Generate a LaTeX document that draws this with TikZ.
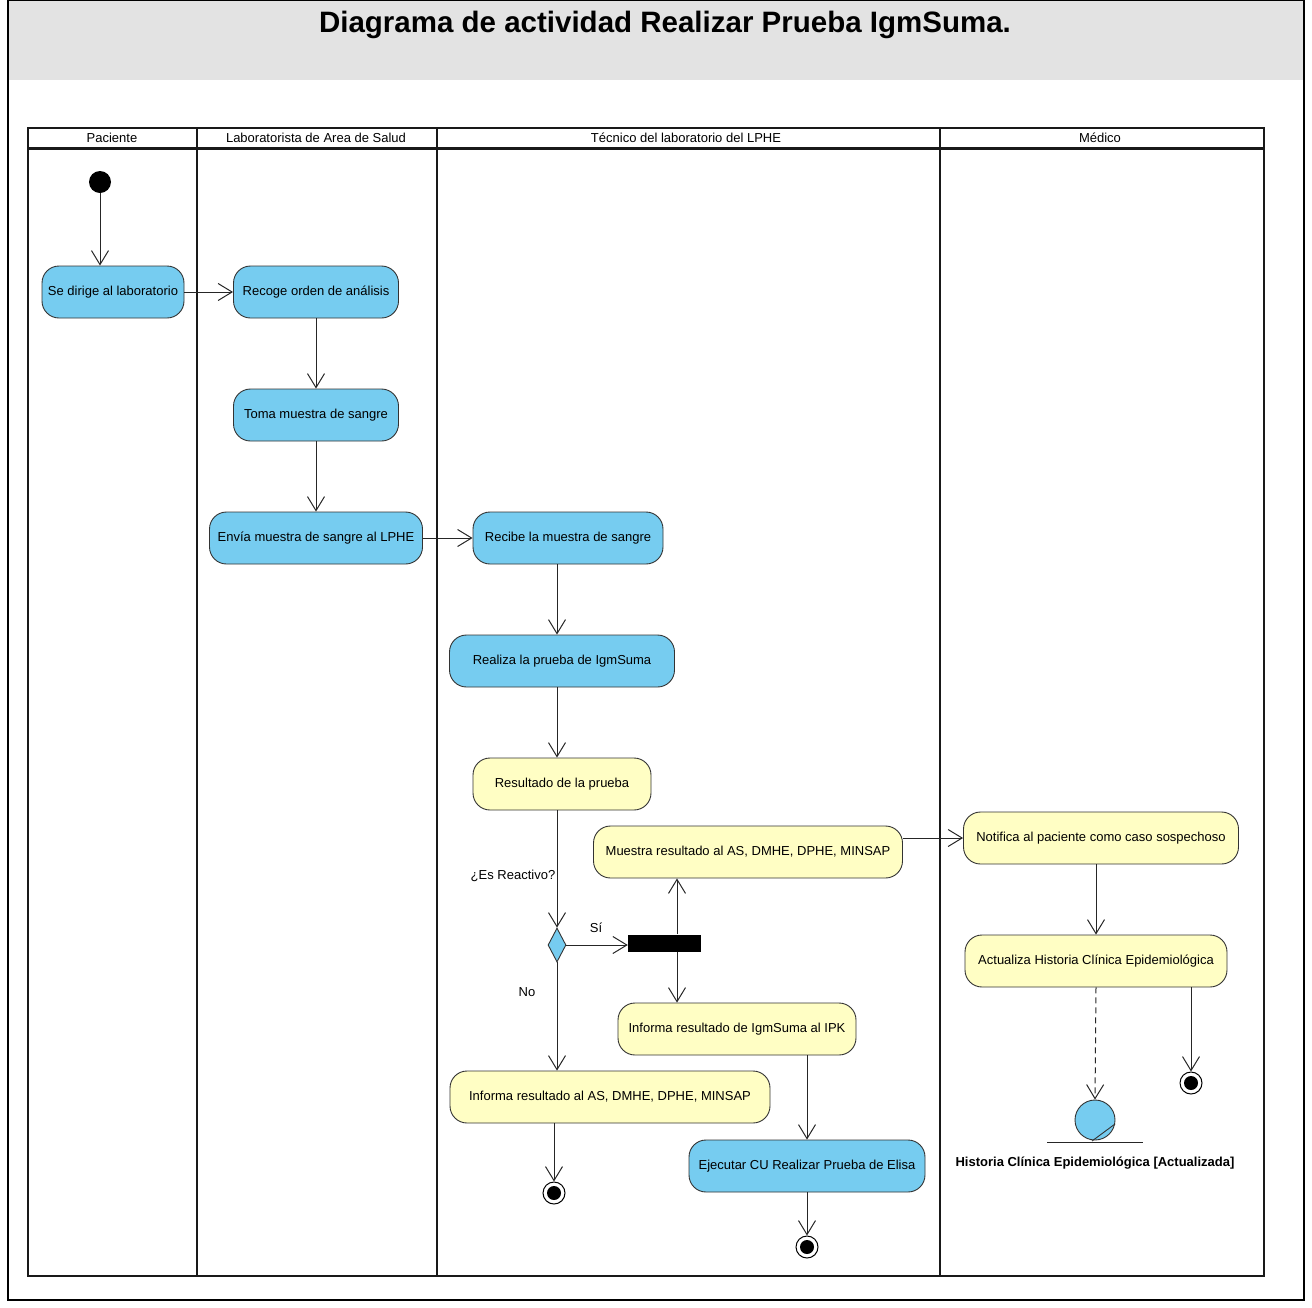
\documentclass[tikz,border=0pt]{standalone}
\usepackage{fontspec}
\setmainfont{Liberation Sans}
\usetikzlibrary{arrows.meta,shapes.geometric}

\definecolor{actblue}{HTML}{76CCF0}
\definecolor{actyellow}{HTML}{FFFEC4}
\definecolor{bandgray}{HTML}{E3E3E3}

\begin{document}
\begin{tikzpicture}[x=1pt,y=-1pt,
  act/.style={draw=black!80, rounded corners=17pt, minimum height=52pt, inner sep=2pt,
              font=\fontsize{13}{15}\selectfont, line width=0.9pt},
  blueact/.style={act, fill=actblue},
  yelact/.style={act, fill=actyellow},
  flow/.style={draw=black!85, line width=1pt,
               -{Straight Barb[length=14pt,width=17pt,line width=1pt]}},
  dep/.style={flow, dashed, dash pattern=on 6pt off 4pt},
  lane/.style={line width=2.5pt, draw=black!90},
  lanelabel/.style={font=\fontsize{13}{15}\selectfont, inner sep=0pt},
  guard/.style={font=\fontsize{13}{15}\selectfont, inner sep=0pt},
  startnode/.style={circle, fill=black, minimum size=22pt, inner sep=0pt},
  endnode/.style={circle, draw=black, line width=1pt, fill=white, minimum size=22pt, inner sep=0pt,
                  path picture={\fill[black] (path picture bounding box.center) circle (7pt);}},
  forkbar/.style={rectangle, fill=black, minimum width=73pt, minimum height=17pt, inner sep=0pt},
  decision/.style={diamond, draw=black!80, fill=actblue, line width=0.9pt,
                   minimum width=18pt, minimum height=34pt, inner sep=0pt},
]
\useasboundingbox (0,0) rectangle (1312,1307);

% frame and title band
\fill[bandgray] (8,0) rectangle (1304,80);
\draw[line width=1.5pt] (8,0) rectangle (1304,1300);
\node[font=\bfseries\fontsize{29.5}{33}\selectfont, inner sep=0pt] (title) at (665,25)
  {Diagrama de actividad Realizar Prueba IgmSuma.};

% swimlanes
\draw[lane] (28,128) rectangle (1264,1276);
\draw[lane, line width=3pt] (28,148) -- (1264,148);
\draw[lane] (197,128) -- (197,1276);
\draw[lane] (437,128) -- (437,1276);
\draw[lane] (940,128) -- (940,1276);
\node[lanelabel] (l1) at (112,138) {Paciente};
\node[lanelabel] (l2) at (316,138) {Laboratorista de Area de Salud};
\node[lanelabel] (l3) at (686,138) {Técnico del laboratorio del LPHE};
\node[lanelabel] (l4) at (1100,138) {Médico};

% activities
\node[startnode] (ini) at (100,182) {};
\node[blueact, minimum width=142pt] (dirige) at (113,292) {Se dirige al laboratorio};
\node[blueact, minimum width=165pt] (recoge) at (316,292) {Recoge orden de análisis};
\node[blueact, minimum width=165pt] (toma) at (316,415) {Toma muestra de sangre};
\node[blueact, minimum width=213pt] (envia) at (316,538) {Envía muestra de sangre al LPHE};
\node[blueact, minimum width=190pt] (recibe) at (568,538) {Recibe la muestra de sangre};
\node[blueact, minimum width=225pt] (realiza) at (562,661) {Realiza la prueba de IgmSuma};
\node[yelact, minimum width=178pt] (resul) at (562,784) {Resultado de la prueba};
\node[yelact, minimum width=309pt] (muestra) at (748,852) {Muestra resultado al AS, DMHE, DPHE, MINSAP};
\node[yelact, minimum width=275pt] (notif) at (1101,838) {Notifica al paciente como caso sospechoso};
\node[decision] (dec) at (557,945) {};
\node[forkbar] (fork) at (664.5,943) {};
\node[yelact, minimum width=238pt] (ipk) at (737,1029) {Informa resultado de IgmSuma al IPK};
\node[yelact, minimum width=262pt] (actual) at (1096,961) {Actualiza Historia Clínica Epidemiológica};
\node[yelact, minimum width=320pt] (infas) at (610,1097) {Informa resultado al AS, DMHE, DPHE, MINSAP};
\node[blueact, minimum width=236pt] (elisa) at (807,1166) {Ejecutar CU Realizar Prueba de Elisa};
\node[endnode] (fin1) at (554,1193) {};
\node[endnode] (fin2) at (807,1247) {};
\node[endnode] (fin3) at (1191,1083) {};

% object node
\node[circle, draw=black!80, fill=actblue, line width=0.9pt, minimum size=40pt, inner sep=0pt] (obj) at (1095,1120) {};
\draw[black!80, line width=0.9pt] (1092,1141) -- (1115,1124);
\draw[black!85, line width=1pt] (1047,1142) -- (1143,1142);
\node[font=\bfseries\fontsize{13}{15}\selectfont, inner sep=0pt] (objlabel) at (1095,1163)
  {Historia Clínica Epidemiológica [Actualizada]};

% helper coordinates for vertical runs
\coordinate (xfork) at (677,0);
\coordinate (xdec) at (557,0);

% control flows
\draw[flow] (ini) -- (ini |- dirige.north);
\draw[flow] (dirige) -- (recoge);
\draw[flow] (recoge) -- (toma);
\draw[flow] (toma) -- (envia);
\draw[flow] (envia) -- (recibe);
\draw[flow] (recibe.south -| xdec) -- (realiza.north -| xdec);
\draw[flow] (realiza.south -| xdec) -- (resul.north -| xdec);
\draw[flow] (resul.south -| xdec) -- (dec.north);
\draw[flow] (dec.east) -- (fork.west |- dec);
\draw[flow] (dec.south) -- (infas.north -| xdec);
\draw[flow] (fork.north -| xfork) -- (muestra.south -| xfork);
\draw[flow] (fork.south -| xfork) -- (ipk.north -| xfork);
\draw[flow] (muestra.east |- notif) -- (notif.west);
\draw[flow] (notif.south -| actual) -- (actual.north);
\draw[dep] (actual.south) -- (obj.north);
\draw[flow] (actual.south -| fin3) -- (fin3.north);
\draw[flow] (ipk.south -| elisa) -- (elisa.north);
\draw[flow] (infas.south -| fin1) -- (fin1.north);
\draw[flow] (elisa) -- (fin2);

% guards
\node[guard] (qreac) at (513,876) {¿Es Reactivo?};
\node[guard] (gsi) at (596,928) {Sí};
\node[guard] (gno) at (527,992) {No};
\end{tikzpicture}
\end{document}
